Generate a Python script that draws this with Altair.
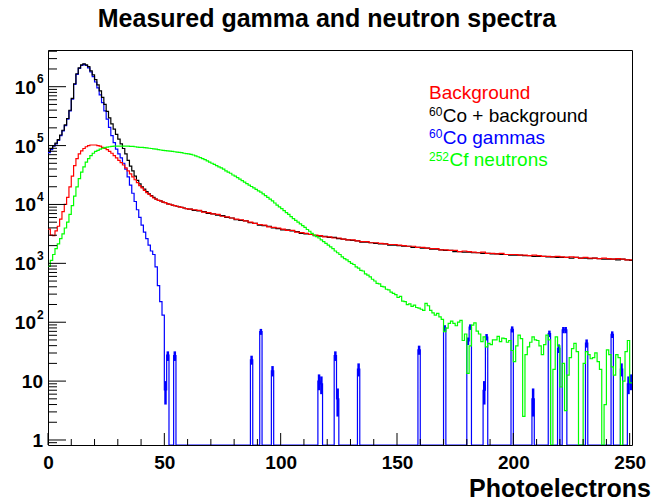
import altair as alt
import pandas as pd

W, H = 584, 395
X_MAX = 251
Y_MIN, Y_MAX = 0.822, 4.2e6
FONT = "Liberation Sans"

TITLE = "Measured gamma and neutron spectra"
X_TITLE = "Photoelectrons"
X_TICK_LABELS = [0, 50, 100, 150, 200, 250]
Y_DECADES = [0, 1, 2, 3, 4, 5, 6]

# ---- log10(counts), 1-photoelectron bins 0..59 ----
red_fine = [3.58, 3.48, 3.47, 3.55, 3.63, 3.75, 3.88, 4.00, 4.12, 4.30,
            4.48, 4.66, 4.78, 4.86, 4.91, 4.95, 4.98, 5.00, 5.01, 5.01,
            5.01, 5.00, 4.99, 4.97, 4.95, 4.93, 4.90, 4.87, 4.83, 4.79,
            4.75, 4.71, 4.67, 4.62, 4.57, 4.52, 4.47, 4.42, 4.37, 4.32,
            4.28, 4.24, 4.20, 4.17, 4.14, 4.11, 4.09, 4.07, 4.06, 4.04,
            4.03, 4.01, 4.00, 3.99, 3.98, 3.97, 3.96, 3.95, 3.94, 3.93]
# 2-photoelectron bins from 60
red_coarse = [3.92, 3.91, 3.90, 3.87, 3.86, 3.84, 3.83, 3.80, 3.79, 3.77,
              3.75, 3.74, 3.72, 3.70, 3.68, 3.66, 3.65, 3.62, 3.61, 3.60,
              3.58, 3.56, 3.56, 3.53, 3.52, 3.51, 3.49, 3.48, 3.47, 3.45,
              3.45, 3.43, 3.43, 3.41, 3.40, 3.40, 3.38, 3.37, 3.37, 3.35,
              3.35, 3.34, 3.33, 3.32, 3.32, 3.31, 3.30, 3.29, 3.29, 3.27,
              3.27, 3.26, 3.25, 3.25, 3.23, 3.23, 3.22, 3.22, 3.20, 3.21,
              3.20, 3.19, 3.18, 3.19, 3.17, 3.17, 3.16, 3.17, 3.15, 3.15,
              3.15, 3.14, 3.14, 3.13, 3.14, 3.13, 3.12, 3.12, 3.11, 3.12,
              3.11, 3.10, 3.11, 3.10, 3.09, 3.10, 3.09, 3.09, 3.08, 3.09,
              3.08, 3.07, 3.08, 3.07, 3.06, 3.06]

black_fine = [4.90, 4.95, 5.00, 5.04, 5.10, 5.18, 5.26, 5.35, 5.46, 5.60,
              5.80, 6.05, 6.22, 6.32, 6.37, 6.39, 6.37, 6.34, 6.27, 6.20,
              6.12, 6.03, 5.93, 5.82, 5.70, 5.58, 5.47, 5.37, 5.28, 5.19,
              5.11, 5.03, 4.95, 4.86, 4.75, 4.65, 4.57, 4.48, 4.41, 4.35,
              4.30, 4.26, 4.22, 4.18, 4.15, 4.12, 4.09, 4.07, 4.06, 4.04,
              4.03, 4.01, 4.00, 3.99, 3.98, 3.97, 3.96, 3.95, 3.94, 3.93]
black_coarse = [3.92, 3.90, 3.89, 3.88, 3.85, 3.84, 3.82, 3.81, 3.78, 3.77,
                3.74, 3.73, 3.72, 3.69, 3.68, 3.65, 3.64, 3.63, 3.60, 3.59,
                3.57, 3.57, 3.55, 3.54, 3.51, 3.50, 3.49, 3.47, 3.46, 3.46,
                3.44, 3.44, 3.42, 3.41, 3.40, 3.39, 3.38, 3.36, 3.36, 3.35,
                3.34, 3.33, 3.33, 3.31, 3.31, 3.30, 3.29, 3.29, 3.27, 3.27,
                3.26, 3.26, 3.24, 3.24, 3.23, 3.22, 3.22, 3.20, 3.20, 3.19,
                3.19, 3.18, 3.18, 3.17, 3.17, 3.16, 3.16, 3.15, 3.15, 3.14,
                3.14, 3.14, 3.13, 3.13, 3.12, 3.12, 3.12, 3.11, 3.11, 3.10,
                3.10, 3.10, 3.09, 3.10, 3.09, 3.09, 3.08, 3.09, 3.08, 3.07,
                3.07, 3.07, 3.06, 3.07, 3.06, 3.05]

green_fine = [2.95, 3.05, 3.15, 3.25, 3.33, 3.42, 3.50, 3.60, 3.70, 3.83,
              3.98, 4.14, 4.30, 4.44, 4.55, 4.64, 4.72, 4.78, 4.83, 4.87,
              4.90, 4.92, 4.94, 4.955, 4.965, 4.975, 4.98, 4.985, 4.99, 4.99,
              4.99, 4.99, 4.99, 4.99, 4.99, 4.985, 4.985, 4.98, 4.975, 4.97,
              4.97, 4.965, 4.96, 4.955, 4.95, 4.945, 4.94, 4.93, 4.925, 4.92,
              4.915, 4.91, 4.905, 4.90, 4.895, 4.89, 4.885, 4.88, 4.87, 4.865]
# 1-photoelectron bins from 60 (None = empty bin)
green_tail = [4.86, 4.85, 4.84, 4.825, 4.81, 4.795, 4.78, 4.76, 4.74, 4.72,
              4.70, 4.68, 4.66, 4.64, 4.62, 4.60, 4.57, 4.55, 4.53, 4.50,
              4.48, 4.455, 4.43, 4.405, 4.38, 4.355, 4.33, 4.305, 4.28, 4.255,
              4.23, 4.21, 4.18, 4.15, 4.12, 4.09, 4.06, 4.025, 3.99, 3.96,
              3.93, 3.895, 3.86, 3.83, 3.795, 3.76, 3.73, 3.70, 3.67, 3.64,
              3.61, 3.575, 3.545, 3.51, 3.48, 3.455, 3.43, 3.40, 3.37, 3.34,
              3.31, 3.28, 3.25, 3.21, 3.18, 3.15, 3.11, 3.08, 3.06, 3.03,
              3.00, 2.98, 2.94, 2.92, 2.88, 2.87, 2.82, 2.80, 2.77, 2.73,
              2.70, 2.66, 2.65, 2.61, 2.60, 2.56, 2.55, 2.51,
              2.49, 2.47, 2.42, 2.44, 2.36, 2.35, 2.30, 2.31, 2.27, 2.29,
              2.25, 2.24, 2.22, 2.20, 2.32, 2.28, 2.20, 2.16, 2.12, 2.15,
              2.09, 2.05, 1.84, 1.90, 1.98, 2.02, 1.98, 1.94, 2.00, 2.03,
              1.69, 1.80, 1.13, 1.60, 1.95, 1.99, 1.85, 1.80, 1.67, 1.75,
              1.58, 1.64, 1.62, 1.70, 1.70, 1.76, 1.67, 1.73, 1.72, 1.66,
              1.69, 1.52, 1.33, 1.60, 1.78, 1.72, 0.40, 1.45, 1.58, 1.66,
              1.75, 1.70, 1.69, 1.60, 1.45, 1.62, 1.78, 1.70, None, 1.20,
              1.75, 1.60, 0.90, 1.30, 0.50, 1.10, 1.40, 1.55, 1.64, 1.50,
              None, None, 1.30, 1.50, 1.45, 1.38, 1.40, 1.48, 1.33, 1.20,
              None, 0.60, 1.53, 1.45, 1.24, 1.10, 1.45, 1.40, None, 1.00,
              1.50, 1.69, 0.97]

blue_main = [4.88, 4.93, 4.99, 5.03, 5.09, 5.17, 5.25, 5.34, 5.45, 5.59,
             5.79, 6.04, 6.21, 6.31, 6.36, 6.38, 6.36, 6.32, 6.25, 6.17,
             6.08, 5.98, 5.86, 5.73, 5.59, 5.45, 5.31, 5.17, 5.05, 4.94,
             4.86, 4.79, 4.70, 4.60, 4.47, 4.33, 4.19, 4.05, 3.91, 3.78,
             3.65, 3.53, 3.42, 3.31, 3.21, 3.15, 2.94, 2.62, 2.35, 2.12,
             0.85, 1.44]
blue_spike_bins = [54, 87, 91, 96, 116, 117, 123, 124, 133, 159, 170, 180, 181,
                   187, 188, 199, 208, 215, 219, 221, 222, 231, 242, 246, 249, 250]
blue_spike_counts = [27, 23, 69, 15, 10, 9, 27, 5, 16, 34, 80, 48, 83,
                     7, 56, 76, 5, 64, 36, 74, 74, 44, 62, 16, 9, 10]
# error bars drawn on the low-count blue bins
blue_err_bins = [50, 51] + blue_spike_bins
blue_err_counts = [7, 27] + blue_spike_counts
blue_err_size = [3, 5, 5, 4, 8, 3, 3, 3, 5, 2.5, 4, 6, 9, 7, 9,
                 3, 7, 9, 2.5, 8, 6, 9, 9, 7, 8, 4, 3, 3]


def to_count(v):
    return Y_MIN if v is None else max(10 ** v, Y_MIN)


def step_df(fine, coarse, start, width):
    xs = list(range(len(fine))) + [start + j * width for j in range(len(coarse))]
    ys = [to_count(v) for v in fine + coarse]
    xs.append(X_MAX)
    ys.append(ys[-1])
    return pd.DataFrame({"x": xs, "y": ys})


red_df = step_df(red_fine, red_coarse, 60, 2)
black_df = step_df(black_fine, black_coarse, 60, 2)
green_df = step_df(green_fine, green_tail, 60, 1)

blue_counts = [Y_MIN] * X_MAX
for i, v in enumerate(blue_main):
    blue_counts[i] = to_count(v)
for b, c in zip(blue_spike_bins, blue_spike_counts):
    blue_counts[b] = c
blue_df = pd.DataFrame({"x": list(range(X_MAX)) + [X_MAX],
                        "y": blue_counts + [blue_counts[-1]]})
err_df = pd.DataFrame({
    "x": [b + 0.5 for b in blue_err_bins],
    "lo": [max(c - e, Y_MIN) for c, e in zip(blue_err_counts, blue_err_size)],
    "hi": [c + e for c, e in zip(blue_err_counts, blue_err_size)],
})

x_scale = alt.Scale(domain=[0, X_MAX], nice=False, zero=False)
y_scale = alt.Scale(type="log", domain=[Y_MIN, Y_MAX], nice=False)
x_axis = alt.Axis(values=X_TICK_LABELS, tickSize=0, domain=False, grid=False,
                  labelFont=FONT, labelFontWeight="bold", labelFontSize=19,
                  labelColor="black", labelPadding=8, labelFlush=False,
                  labelOverlap=False, title=None)


def hist(df, color):
    return alt.Chart(df).mark_line(interpolate="step-after", color=color,
                                   strokeWidth=1.2, clip=True).encode(
        x=alt.X("x:Q", scale=x_scale, axis=x_axis),
        y=alt.Y("y:Q", scale=y_scale, axis=None),
    )


layers = [hist(blue_df, "#0000ff"),
          alt.Chart(err_df).mark_rule(color="#0000ff", strokeWidth=2.5, clip=True).encode(
              x=alt.X("x:Q", scale=x_scale, axis=x_axis),
              y=alt.Y("lo:Q", scale=y_scale, axis=None), y2="hi:Q"),
          hist(black_df, "#000000"),
          hist(red_df, "#ff0000"), hist(green_df, "#00ff00")]

# ticks (inward, ROOT style)
xt_major = pd.DataFrame({"x": X_TICK_LABELS})
xt_minor = pd.DataFrame({"x": [v for v in range(10, 251, 10) if v % 50]})
yt_major = pd.DataFrame({"y": [10 ** k for k in Y_DECADES]})
yt_minor = pd.DataFrame({"y": [m * 10 ** k for k in range(-1, 7) for m in range(2, 10)
                               if Y_MIN < m * 10 ** k < Y_MAX]})

for df, ln in [(xt_major, 12), (xt_minor, 6)]:
    layers.append(alt.Chart(df).mark_rule(color="black", strokeWidth=1).encode(
        x=alt.X("x:Q", scale=x_scale, axis=x_axis),
        y=alt.value(H), y2=alt.value(H - ln)))
for df, ln in [(yt_major, 18), (yt_minor, 9)]:
    layers.append(alt.Chart(df).mark_rule(color="black", strokeWidth=1).encode(
        y=alt.Y("y:Q", scale=y_scale, axis=None),
        x=alt.value(0), x2=alt.value(ln)))

# y labels
lab_small = pd.DataFrame({"y": [1, 10], "t": ["1", "10"]})
lab_big = pd.DataFrame({"y": [10 ** k for k in Y_DECADES if k >= 2],
                        "t": ["10"] * 5, "e": [str(k) for k in Y_DECADES if k >= 2]})
layers.append(alt.Chart(lab_small).mark_text(
    font=FONT, fontWeight="bold", fontSize=19, align="right", baseline="alphabetic",
    dy=7, color="black").encode(y=alt.Y("y:Q", scale=y_scale, axis=None),
                                x=alt.value(-5), text="t:N"))
layers.append(alt.Chart(lab_big).mark_text(
    font=FONT, fontWeight="bold", fontSize=19, align="right", baseline="alphabetic",
    dy=7, color="black").encode(y=alt.Y("y:Q", scale=y_scale, axis=None),
                                x=alt.value(-12), text="t:N"))
layers.append(alt.Chart(lab_big).mark_text(
    font=FONT, fontWeight="bold", fontSize=12, align="left", baseline="alphabetic",
    dy=-3.5, color="black").encode(y=alt.Y("y:Q", scale=y_scale, axis=None),
                                   x=alt.value(-11), text="e:N"))

# titles
layers.append(alt.Chart(pd.DataFrame({"t": [TITLE]})).mark_text(
    font=FONT, fontWeight="bold", fontSize=25, align="center", baseline="alphabetic",
    color="black").encode(x=alt.value(279), y=alt.value(-23), text="t:N"))
layers.append(alt.Chart(pd.DataFrame({"t": [X_TITLE]})).mark_text(
    font=FONT, fontWeight="bold", fontSize=25, align="right", baseline="alphabetic",
    color="black").encode(x=alt.value(603), y=alt.value(447), text="t:N"))

# legend
legend_sup = ["", "60", "60", "252"]
legend_main = ["Background", "Co + background", "Co gammas", "Cf neutrons"]
legend_colors = ["#ff0000", "#000000", "#0000ff", "#00ff00"]
legend_x = [381, 394.7, 394.7, 401.5]
legend_base = [49.3, 71.7, 94, 116.3]
for sup, main, col, lx, ly in zip(legend_sup, legend_main, legend_colors, legend_x, legend_base):
    layers.append(alt.Chart(pd.DataFrame({"t": [main]})).mark_text(
        font=FONT, fontSize=19, align="left", baseline="alphabetic", color=col).encode(
        x=alt.value(lx), y=alt.value(ly), text="t:N"))
    if sup:
        layers.append(alt.Chart(pd.DataFrame({"t": [sup]})).mark_text(
            font=FONT, fontSize=12, align="left", baseline="alphabetic", color=col).encode(
            x=alt.value(381), y=alt.value(ly - 5.7), text="t:N"))

chart = alt.layer(*layers).properties(
    width=W, height=H,
    autosize=alt.AutoSizeParams(type="none"),
    padding={"left": 48, "top": 50, "right": 22, "bottom": 58},
    background="white",
).configure_view(stroke="black", strokeWidth=1)

chart.save("out.html", embed_options={"renderer": "svg", "actions": False})
